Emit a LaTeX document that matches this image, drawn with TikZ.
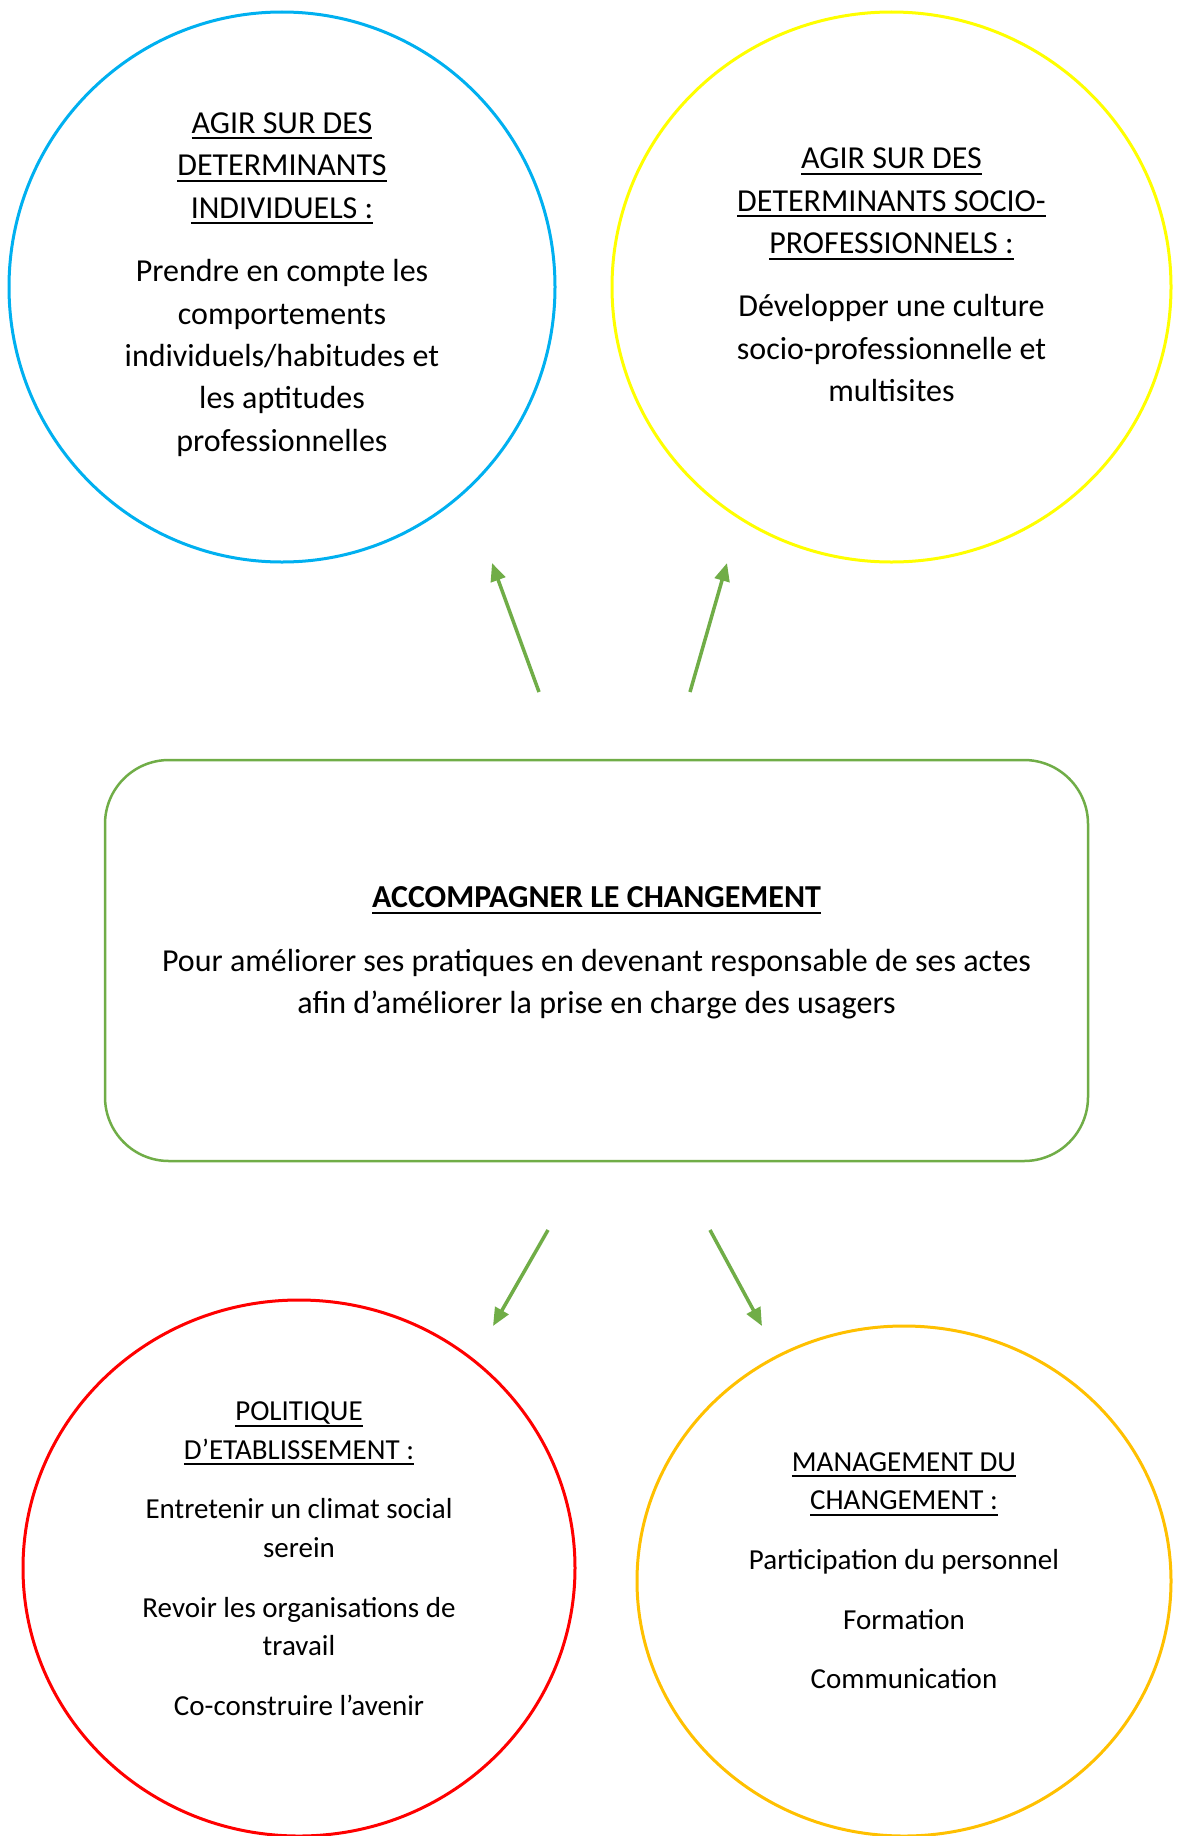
\documentclass[tikz,border=0pt]{standalone}
\usepackage{fontspec}
\setmainfont{Carlito}
\usetikzlibrary{shapes.geometric,arrows.meta}
\definecolor{cblue}{HTML}{00B0F0}
\definecolor{cyellow}{HTML}{FFFF00}
\definecolor{cred}{HTML}{FF0000}
\definecolor{corange}{HTML}{FFC000}
\definecolor{cgreen}{HTML}{70AD47}
\newcommand\myul[1]{\setbox0\hbox{#1}\rlap{\rule[-6pt]{\wd0}{2pt}}\box0}
\begin{document}
\begin{tikzpicture}[x=1pt,y=-1pt,
  bubble/.style={ellipse, draw, line width=3pt, inner sep=0pt},
  big/.style={align=center, inner sep=0pt, font=\fontsize{32pt}{42.4pt}\selectfont},
  small/.style={align=center, inner sep=0pt, font=\fontsize{29pt}{38.6pt}\selectfont},
  arr/.style={draw=cgreen, line width=3.5pt, -{Triangle[length=18pt,width=15pt]}}]
\useasboundingbox[fill=white] (0,0) rectangle (1182,1836);

% shapes
\node[bubble, draw=cblue, minimum width=546pt, minimum height=550pt] (c1) at (282,287) {};
\node[bubble, draw=cyellow, minimum width=559pt, minimum height=550pt] (c2) at (891.5,287) {};
\node[bubble, draw=cred, minimum width=552pt, minimum height=536pt] (c3) at (299,1568) {};
\node[bubble, draw=corange, minimum width=534pt, minimum height=510pt] (c4) at (904,1581) {};
\node[draw=cgreen, line width=2.5pt, rounded corners=64pt, minimum width=983pt, minimum height=401pt, inner sep=0pt] (box) at (596.5,960.5) {};

% texts
\node[big] (t1) at (282,284.5) {\myul{AGIR SUR DES}\\\myul{DETERMINANTS}\\\myul{INDIVIDUELS :}\\[21pt]
Prendre en compte les\\comportements\\individuels/habitudes et\\les aptitudes\\professionnelles};
\node[big] (t2) at (891.5,275) {\myul{AGIR SUR DES}\\\myul{DETERMINANTS SOCIO-}\\\myul{PROFESSIONNELS :}\\[21pt]
Développer une culture\\socio-professionnelle et\\multisites};
\node[big] (t3) at (596.5,953) {\textbf{\myul{ACCOMPAGNER LE CHANGEMENT}}\\[21pt]
Pour améliorer ses pratiques en devenant responsable de ses actes\\afin d’améliorer la prise en charge des usagers};
\node[small] (t4) at (299,1558.7) {\myul{POLITIQUE}\\\myul{D’ETABLISSEMENT :}\\[21pt]
Entretenir un climat social\\serein\\[21pt]Revoir les organisations de\\travail\\[21pt]Co-construire l’avenir};
\node[small] (t5) at (904,1570.7) {\myul{MANAGEMENT DU}\\\myul{CHANGEMENT :}\\[21pt]
Participation du personnel\\[21pt]Formation\\[21pt]Communication};

% arrows
\coordinate (a1s) at (539,692); \coordinate (a1e) at (492,563);
\coordinate (a2s) at (690,692); \coordinate (a2e) at (727,563);
\coordinate (a3s) at (548,1230); \coordinate (a3e) at (493,1326);
\coordinate (a4s) at (710,1230); \coordinate (a4e) at (762,1326);
\draw[arr] (a1s) -- (a1e);
\draw[arr] (a2s) -- (a2e);
\draw[arr] (a3s) -- (a3e);
\draw[arr] (a4s) -- (a4e);
\end{tikzpicture}
\end{document}
